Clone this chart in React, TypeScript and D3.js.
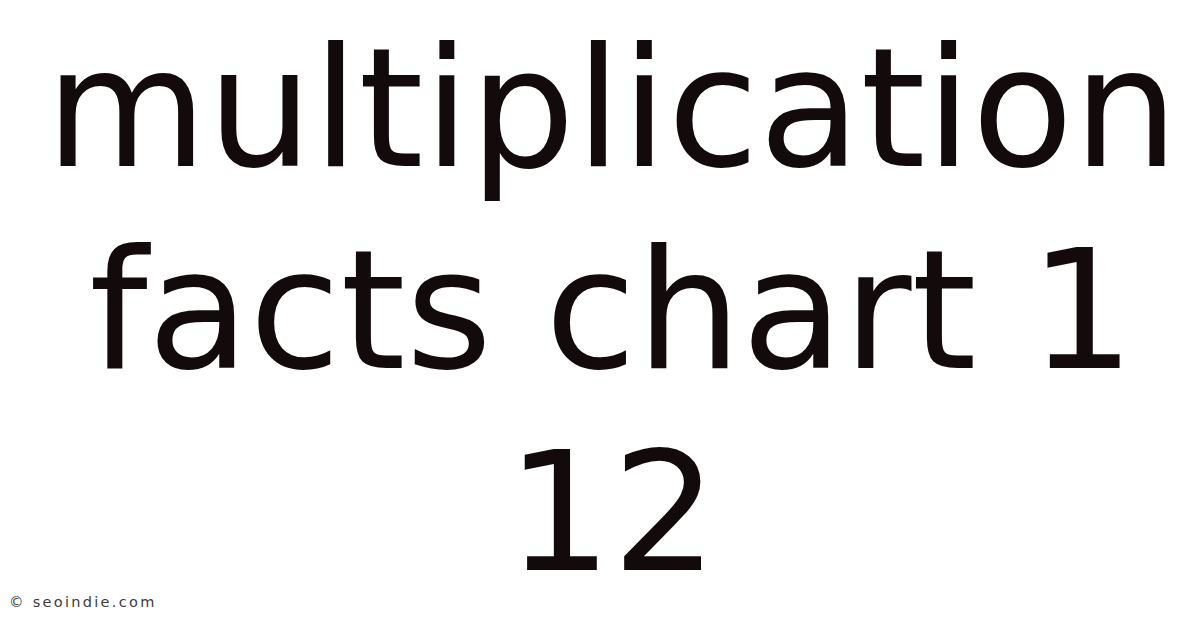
import React, { useEffect, useRef } from 'react';
import * as d3 from 'd3';

// title lines, top to bottom
const titleLines = ['multiplication', 'facts chart 1', '12'];
const watermark = '© seoindie.com';

const W = 1200;
const H = 628;

export default function App() {
  const svgRef = useRef<SVGSVGElement>(null);

  useEffect(() => {
    if (!svgRef.current) return;
    const svg = d3.select(svgRef.current);
    svg.selectAll('*').remove();

    svg.append('rect')
      .attr('width', W)
      .attr('height', H)
      .attr('fill', '#ffffff');

    // baselines of the three lines
    const y = d3.scaleLinear()
      .domain([0, titleLines.length - 1])
      .range([166, 570]);

    svg.selectAll('text.title')
      .data(titleLines)
      .join('text')
      .attr('class', 'title')
      .attr('x', 612)
      .attr('y', (_, i) => y(i))
      .attr('text-anchor', 'middle')
      .attr('font-family', '"DejaVu Sans", sans-serif')
      .attr('font-size', 166)
      .attr('fill', '#120a0b')
      .text(d => d);

    svg.append('text')
      .attr('x', 9)
      .attr('y', 607)
      .attr('font-family', '"DejaVu Sans", sans-serif')
      .attr('font-size', 14.5)
      .attr('letter-spacing', 2.3)
      .attr('fill', '#3c3c3c')
      .text(watermark);
  }, []);

  return (
    <div style={{ position: 'fixed', left: 0, top: 0, width: W, height: H }}>
      <svg ref={svgRef} width={W} height={H} style={{ display: 'block' }} />
    </div>
  );
}
